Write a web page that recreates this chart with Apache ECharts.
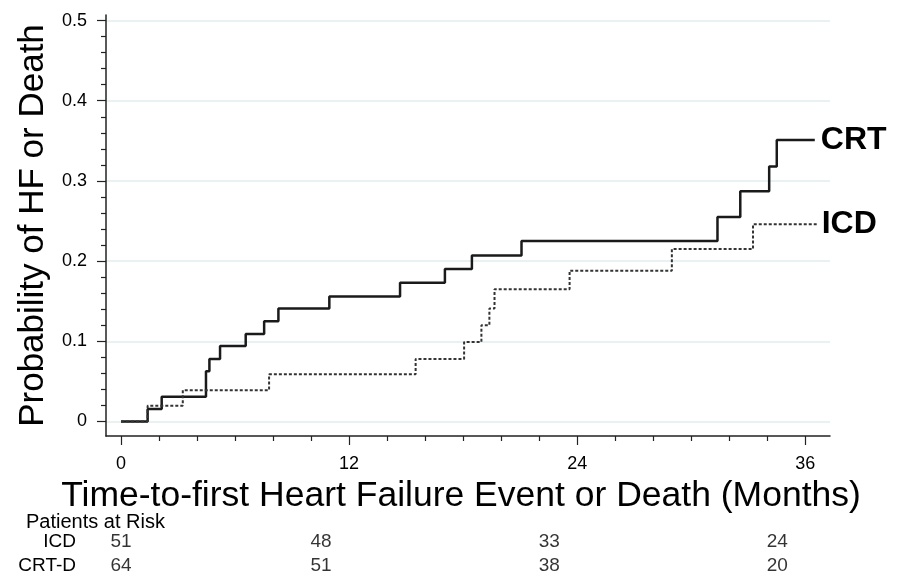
<!DOCTYPE html>
<html><head><meta charset="utf-8">
<script src="https://cdn.jsdelivr.net/npm/echarts@6/dist/echarts.min.js"></script>
<style>html,body{margin:0;padding:0;background:#fff}#c{width:904px;height:579px}</style>
</head><body><div id="c"></div>
<script>
// Kaplan-Meier cumulative incidence
const crtTimes = [0, 1.4, 2.14, 4.47, 4.65, 5.21, 6.56, 7.53, 8.28, 10.96, 14.68, 17.04, 18.46, 21.07, 31.38, 32.58, 34.1, 34.5, 36.5];
const crtProb  = [0, 0.0156, 0.031, 0.0625, 0.078, 0.094, 0.109, 0.125, 0.141, 0.156, 0.173, 0.19, 0.207, 0.225, 0.255, 0.287, 0.318, 0.351, 0.351];
const icdTimes = [0, 1.4, 3.25, 7.79, 15.5, 18.05, 18.96, 19.38, 19.65, 23.6, 28.98, 33.25, 36.6];
const icdProb  = [0, 0.0196, 0.039, 0.0588, 0.078, 0.099, 0.12, 0.141, 0.165, 0.188, 0.215, 0.246, 0.246];
const seriesNames = ['CRT', 'ICD'];
// axis ticks
const xMajorTicks = [0, 12, 24, 36];
const xMinorTicks = [2, 4, 6, 8, 10, 14, 16, 18, 20, 22, 26, 28, 30, 32, 34];
const yMajorTicks = [0, 0.1, 0.2, 0.3, 0.4, 0.5];
const yMinorTicks = [0.02, 0.04, 0.06, 0.08, 0.12, 0.14, 0.16, 0.18, 0.22, 0.24, 0.26, 0.28, 0.32, 0.34, 0.36, 0.38, 0.42, 0.44, 0.46, 0.48];
// Patients at risk table
const riskGroups = ['CRT-D', 'ICD'];
const riskTimes = [0, 12, 24, 36];
const riskICD = [51, 48, 33, 24];
const riskCRT = [64, 51, 38, 20];

const FONT = "'Liberation Sans', Arial, sans-serif";
const X_MIN = -0.79, X_MAX = 37.3, Y_MIN = -0.0181, Y_MAX = 0.5069;
const zip = (a, b) => a.map((t, i) => [t, b[i]]);
const riskData = [];
riskTimes.forEach((t, i) => {
  const lab = t > 0 ? { offset: [-28, 0] } : {};
  riskData.push({ value: [t, 'ICD', riskICD[i]], label: lab });
  riskData.push({ value: [t, 'CRT-D', riskCRT[i]], label: lab });
});
const axisColor = '#222';

const chart = echarts.init(document.getElementById('c'));
chart.setOption({
  backgroundColor: '#fff',
  animation: false,
  textStyle: { fontFamily: FONT },
  title: [{ text: 'Patients at Risk', left: 21, top: 507, textStyle: { fontSize: 20, fontWeight: 'normal', color: '#000', fontFamily: FONT } }],
  grid: [
    { left: 106, right: 74, top: 15, bottom: 143 },
    { left: 106, right: 74, top: 530, height: 48 }
  ],
  xAxis: [
    { gridIndex: 0, type: 'value', min: X_MIN, max: X_MAX,
      axisLine: { show: true, onZero: false, lineStyle: { color: axisColor, width: 1.5 } },
      axisTick: { show: true, length: 9, customValues: xMajorTicks, lineStyle: { color: axisColor, width: 1.2 } },
      axisLabel: { show: true, customValues: xMajorTicks, color: '#000', fontSize: 18, margin: 19 },
      splitLine: { show: false },
      name: 'Time-to-first Heart Failure Event or Death (Months)', nameLocation: 'middle', nameGap: 38,
      nameTextStyle: { fontSize: 35.5, color: '#000', padding: [0, 14, 0, 0] } },
    { gridIndex: 0, type: 'value', min: X_MIN, max: X_MAX, position: 'bottom',
      axisLine: { show: false, onZero: false },
      axisTick: { show: true, length: 5, customValues: xMinorTicks, lineStyle: { color: axisColor, width: 1.2 } },
      axisLabel: { show: false }, splitLine: { show: false } },
    { gridIndex: 1, type: 'value', min: X_MIN, max: X_MAX, show: false }
  ],
  yAxis: [
    { gridIndex: 0, type: 'value', min: Y_MIN, max: Y_MAX,
      axisLine: { show: true, onZero: false, lineStyle: { color: axisColor, width: 1.5 } },
      axisTick: { show: true, length: 9, customValues: yMajorTicks, lineStyle: { color: axisColor, width: 1.2 } },
      axisLabel: { show: true, customValues: yMajorTicks, color: '#000', fontSize: 18, margin: 19,
        formatter: v => (Math.abs(v) < 1e-9 ? '0' : v.toFixed(1)) },
      splitLine: { show: true, lineStyle: { color: '#e3ecee', width: 1.5 } },
      name: 'Probability of HF or Death', nameLocation: 'middle', nameGap: 50,
      nameTextStyle: { fontSize: 35, color: '#000' } },
    { gridIndex: 0, type: 'value', min: Y_MIN, max: Y_MAX, position: 'left',
      axisLine: { show: false, onZero: false },
      axisTick: { show: true, length: 5, customValues: yMinorTicks, lineStyle: { color: axisColor, width: 1.2 } },
      axisLabel: { show: false }, splitLine: { show: false } },
    { gridIndex: 1, type: 'category', data: riskGroups, axisLine: { show: false }, axisTick: { show: false },
      axisLabel: { color: '#000', fontSize: 19, margin: 30, interval: 0 } }
  ],
  series: [
    { name: seriesNames[0], type: 'line', xAxisIndex: 0, yAxisIndex: 0, step: 'end', symbol: 'none',
      data: zip(crtTimes, crtProb), lineStyle: { color: '#1a1a1a', width: 2.5 },
      endLabel: { show: true, formatter: '{a}', fontSize: 32, fontWeight: 'bold', color: '#000', distance: 6 } },
    { name: seriesNames[1], type: 'line', xAxisIndex: 0, yAxisIndex: 0, step: 'end', symbol: 'none',
      data: zip(icdTimes, icdProb), lineStyle: { color: '#333', width: 2, type: [3, 2] },
      endLabel: { show: true, formatter: '{a}', fontSize: 32, fontWeight: 'bold', color: '#000', distance: 5 } },
    { type: 'scatter', xAxisIndex: 2, yAxisIndex: 2, symbolSize: 0, data: riskData,
      label: { show: true, position: 'inside', formatter: p => p.value[2], fontSize: 19, color: '#000' } }
  ]
});
</script>
</body></html>
